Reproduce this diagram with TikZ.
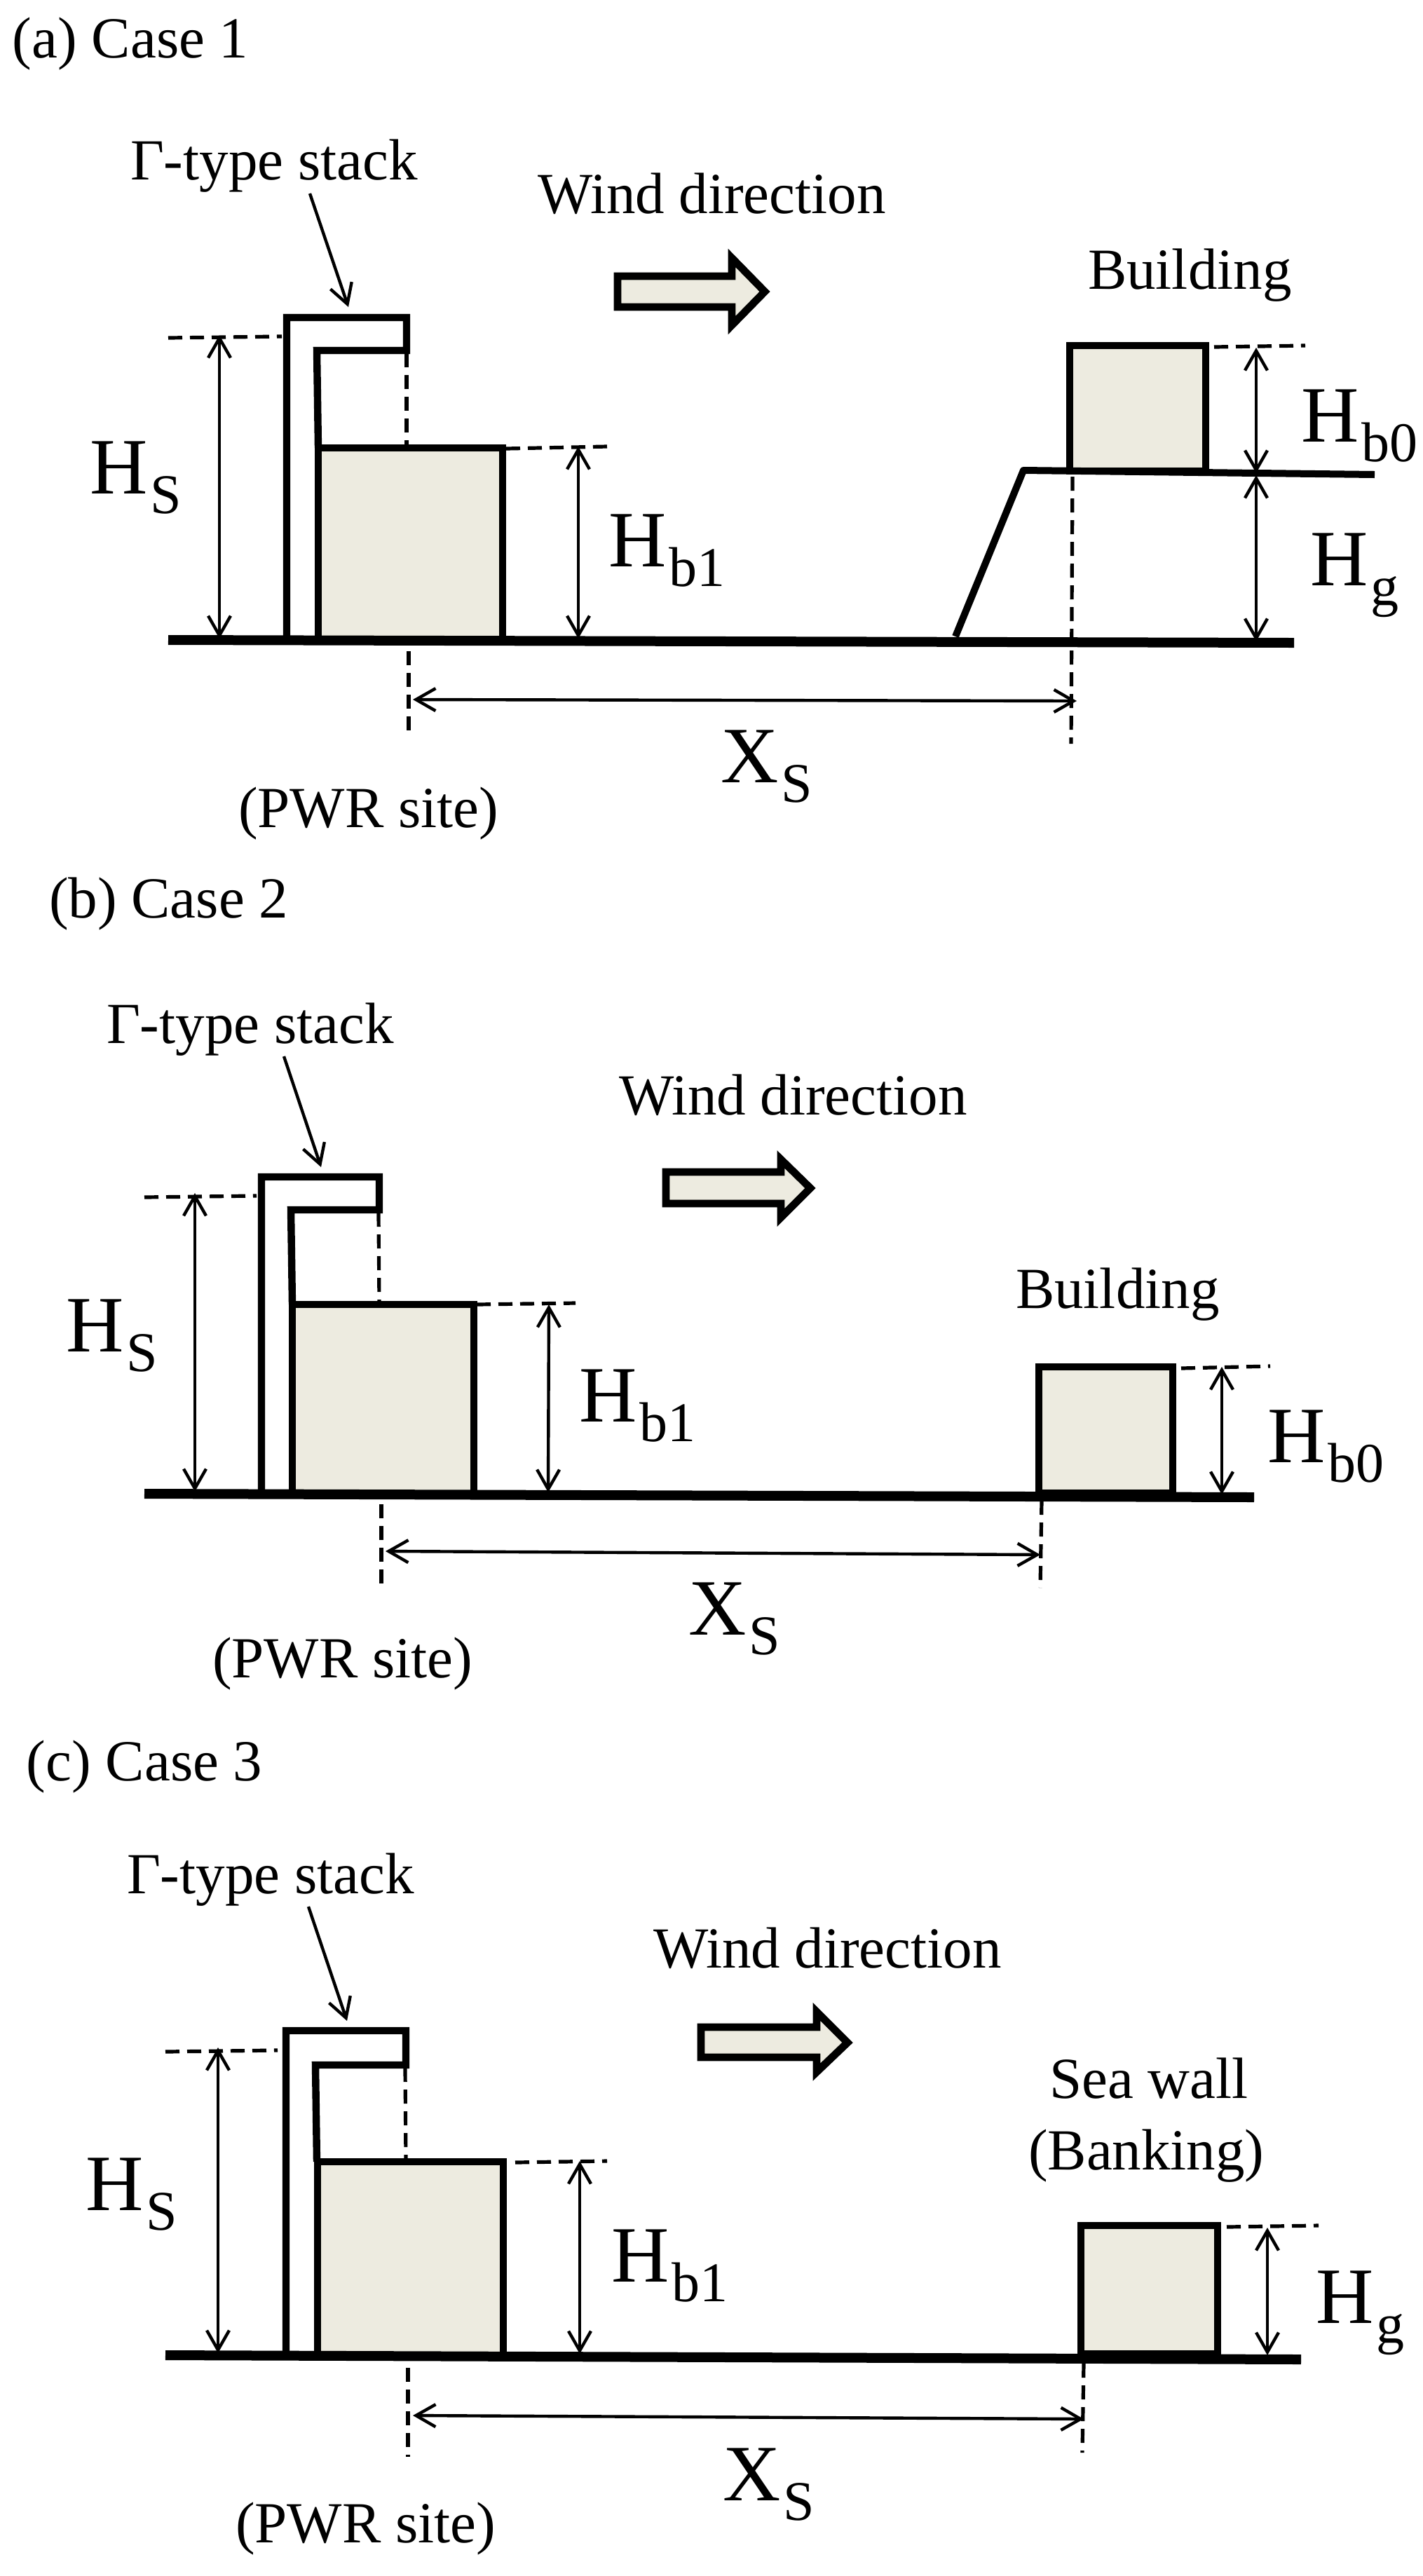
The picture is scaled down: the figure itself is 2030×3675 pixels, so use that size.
\documentclass[tikz,border=0pt]{standalone}
\usepackage{fontspec}
\setmainfont{Liberation Serif}
\usetikzlibrary{arrows.meta}
\definecolor{fillbeige}{HTML}{EDEBE0}
\tikzset{
  txt/.style={anchor=base west,inner sep=0pt,outer sep=0pt,font=\fontsize{41.5}{41.5}\selectfont},
  big/.style={anchor=base west,inner sep=0pt,outer sep=0pt,font=\fontsize{57}{57}\selectfont},
  block/.style={draw=black,fill=fillbeige,line width=5pt,inner sep=0pt,outer sep=0pt,anchor=north west},
  stackline/.style={draw=black,line width=5.2pt,line join=miter},
  ground/.style={draw=black,line width=7pt},
  slope/.style={draw=black,line width=5pt,line join=round},
  windarrow/.style={draw=black,fill=fillbeige,line width=5.4pt,line join=miter},
  dashline/.style={draw=black,line width=2.6pt,dash pattern=on 10pt off 5.5pt},
  dim/.style={draw=black,line width=2.2pt,{Straight Barb[length=14pt,width=16pt,line width=2.2pt]}-{Straight Barb[length=14pt,width=16pt,line width=2.2pt]}},
  pointer/.style={draw=black,line width=2.2pt,-{Straight Barb[length=14pt,width=16pt,line width=2.2pt]}}
}
\newcommand{\subb}[2]{#1\kern2pt\raisebox{-14pt}{\fontsize{40}{40}\selectfont #2}}
\newcommand{\boxnode}[5]{% name, left, top, right, bottom
  \pgfmathsetlengthmacro{\bw}{(#4-#2)*0.5pt}\pgfmathsetlengthmacro{\bh}{(#5-#3)*0.5pt}
  \node[block,minimum width=\bw,minimum height=\bh] (#1) at (#2,#3) {};}
\begin{document}
\begin{tikzpicture}[x=0.5pt,y=-0.5pt]
\useasboundingbox (0,0) rectangle (2030,3675);

% ===== Panel (a) =====
\boxnode{ablock}{454}{639}{717}{913}
\boxnode{abuild}{1526}{493}{1720}{672}
\coordinate (ag1) at (240,913); \coordinate (ag2) at (1846,917);
\coordinate (as1) at (1363,908); \coordinate (as2) at (1460,671); \coordinate (as3) at (1961,677);
\draw[ground] (ag1) -- (ag2);
\draw[slope] (as1) -- (as2) -- (as3);
\draw[stackline] (409,913) -- (409,453) -- (580,453) -- (580,500) -- (452,500) -- (454,639);
\node[txt] (acase) at (18,82) {(a) Case 1};
\node[txt] (astack) at (186,256) {Γ-type stack};
\node[txt] (awind) at (767,304) {Wind direction};
\node[txt] (abuilding) at (1552,412) {Building};
\node[txt] (apwr) at (340,1180) {(PWR site)};
\node[big] (ahs) at (128,704) {\subb{H}{S}};
\node[big] (ahb1) at (868,808) {\subb{H}{b1}};
\node[big] (ahb0) at (1856,630) {\subb{H}{b0}};
\node[big] (ahg) at (1869,835) {\subb{H}{g}};
\node[big] (axs) at (1028,1116) {\subb{X}{S}};
\coordinate (aptail) at (442,276); \coordinate (aptip) at (497,438);
\draw[pointer] (aptail) -- (aptip);
\coordinate (ad1a) at (240,482); \coordinate (ad1b) at (402,480);
\coordinate (ad2a) at (722,640); \coordinate (ad2b) at (866,637);
\coordinate (ad3a) at (580,504); \coordinate (ad3b) at (580,634);
\coordinate (ad4a) at (583,929); \coordinate (ad4b) at (583,1052);
\coordinate (ad5a) at (1530,680); \coordinate (ad5b) at (1528,1061);
\coordinate (ad6a) at (1732,495); \coordinate (ad6b) at (1862,493);
\foreach \p/\q in {ad1a/ad1b,ad2a/ad2b,ad3a/ad3b,ad4a/ad4b,ad5a/ad5b,ad6a/ad6b} \draw[dashline] (\p) -- (\q);
\coordinate (ah1a) at (313,478); \coordinate (ah1b) at (313,911);
\coordinate (ah2a) at (825,637); \coordinate (ah2b) at (825,911);
\coordinate (ah3a) at (1792,496); \coordinate (ah3b) at (1792,675);
\coordinate (ah4a) at (1792,678); \coordinate (ah4b) at (1792,915);
\coordinate (ax1) at (589,998); \coordinate (ax2) at (1536,1000);
\foreach \p/\q in {ah1a/ah1b,ah2a/ah2b,ah3a/ah3b,ah4a/ah4b,ax1/ax2} \draw[dim] (\p) -- (\q);
\draw[windarrow] (881,394) -- (1044,394) -- (1044,368) -- (1091,416) -- (1044,464) -- (1044,438) -- (881,438) -- cycle;

% ===== Panel (b) =====
\boxnode{bblock}{417}{1861}{676}{2131}
\boxnode{bbuild}{1482}{1950}{1673}{2130}
\coordinate (bg1) at (206,2131); \coordinate (bg2) at (1789,2136);
\draw[ground] (bg1) -- (bg2);
\draw[stackline] (373,2131) -- (373,1679) -- (541,1679) -- (541,1726) -- (415,1726) -- (417,1861);
\node[txt] (bcase) at (70,1309) {(b) Case 2};
\node[txt] (bstack) at (152,1488) {Γ-type stack};
\node[txt] (bwind) at (883,1590) {Wind direction};
\node[txt] (bbuilding) at (1449,1866) {Building};
\node[txt] (bpwr) at (303,2393) {(PWR site)};
\node[big] (bhs) at (94,1928) {\subb{H}{S}};
\node[big] (bhb1) at (826,2028) {\subb{H}{b1}};
\node[big] (bhb0) at (1808,2086) {\subb{H}{b0}};
\node[big] (bxs) at (982,2332) {\subb{X}{S}};
\coordinate (bptail) at (405,1507); \coordinate (bptip) at (458,1665);
\draw[pointer] (bptail) -- (bptip);
\coordinate (bd1a) at (206,1708); \coordinate (bd1b) at (366,1706);
\coordinate (bd2a) at (680,1861); \coordinate (bd2b) at (821,1859);
\coordinate (bd3a) at (540,1730); \coordinate (bd3b) at (541,1857);
\coordinate (bd4a) at (544,2146); \coordinate (bd4b) at (544,2270);
\coordinate (bd5a) at (1486,2141); \coordinate (bd5b) at (1484,2265);
\coordinate (bd6a) at (1685,1952); \coordinate (bd6b) at (1812,1949);
\foreach \p/\q in {bd1a/bd1b,bd2a/bd2b,bd3a/bd3b,bd4a/bd4b,bd5a/bd5b,bd6a/bd6b} \draw[dashline] (\p) -- (\q);
\coordinate (bh1a) at (278,1702); \coordinate (bh1b) at (278,2128);
\coordinate (bh2a) at (783,1861); \coordinate (bh2b) at (782,2129);
\coordinate (bh3a) at (1743,1950); \coordinate (bh3b) at (1743,2132);
\coordinate (bx1) at (550,2213); \coordinate (bx2) at (1484,2218);
\foreach \p/\q in {bh1a/bh1b,bh2a/bh2b,bh3a/bh3b,bx1/bx2} \draw[dim] (\p) -- (\q);
\draw[windarrow] (950,1672) -- (1114,1672) -- (1114,1654) -- (1156,1695) -- (1114,1737) -- (1114,1717) -- (950,1717) -- cycle;

% ===== Panel (c) =====
\boxnode{cblock}{453}{3084}{718}{3360}
\boxnode{cbuild}{1542}{3175}{1737}{3358}
\coordinate (cg1) at (236,3360); \coordinate (cg2) at (1856,3366);
\draw[ground] (cg1) -- (cg2);
\draw[stackline] (408,3360) -- (408,2897) -- (579,2897) -- (579,2946) -- (450,2946) -- (452,3084);
\node[txt] (ccase) at (38,2540) {(c) Case 3};
\node[txt] (cstack) at (181,2701) {Γ-type stack};
\node[txt] (cwind) at (932,2807) {Wind direction};
\node[txt] (csea) at (1497,2993) {Sea wall};
\node[txt] (cbank) at (1467,3095) {(Banking)};
\node[txt] (cpwr) at (336,3627) {(PWR site)};
\node[big] (chs) at (122,3153) {\subb{H}{S}};
\node[big] (chb1) at (872,3255) {\subb{H}{b1}};
\node[big] (chg) at (1877,3314) {\subb{H}{g}};
\node[big] (cxs) at (1031,3567) {\subb{X}{S}};
\coordinate (cptail) at (440,2720); \coordinate (cptip) at (495,2883);
\draw[pointer] (cptail) -- (cptip);
\coordinate (cd1a) at (236,2927); \coordinate (cd1b) at (396,2925);
\coordinate (cd2a) at (735,3085); \coordinate (cd2b) at (866,3083);
\coordinate (cd3a) at (578,2950); \coordinate (cd3b) at (579,3079);
\coordinate (cd4a) at (582,3378); \coordinate (cd4b) at (582,3505);
\coordinate (cd5a) at (1546,3372); \coordinate (cd5b) at (1544,3499);
\coordinate (cd6a) at (1750,3177); \coordinate (cd6b) at (1881,3175);
\foreach \p/\q in {cd1a/cd1b,cd2a/cd2b,cd3a/cd3b,cd4a/cd4b,cd5a/cd5b,cd6a/cd6b} \draw[dashline] (\p) -- (\q);
\coordinate (ch1a) at (311,2921); \coordinate (ch1b) at (311,3357);
\coordinate (ch2a) at (827,3083); \coordinate (ch2b) at (827,3358);
\coordinate (ch3a) at (1808,3178); \coordinate (ch3b) at (1808,3360);
\coordinate (cx1) at (589,3446); \coordinate (cx2) at (1546,3451);
\foreach \p/\q in {ch1a/ch1b,ch2a/ch2b,ch3a/ch3b,cx1/cx2} \draw[dim] (\p) -- (\q);
\draw[windarrow] (1000,2892) -- (1165,2892) -- (1165,2870) -- (1209,2914) -- (1165,2956) -- (1165,2935) -- (1000,2935) -- cycle;
\end{tikzpicture}
\end{document}
